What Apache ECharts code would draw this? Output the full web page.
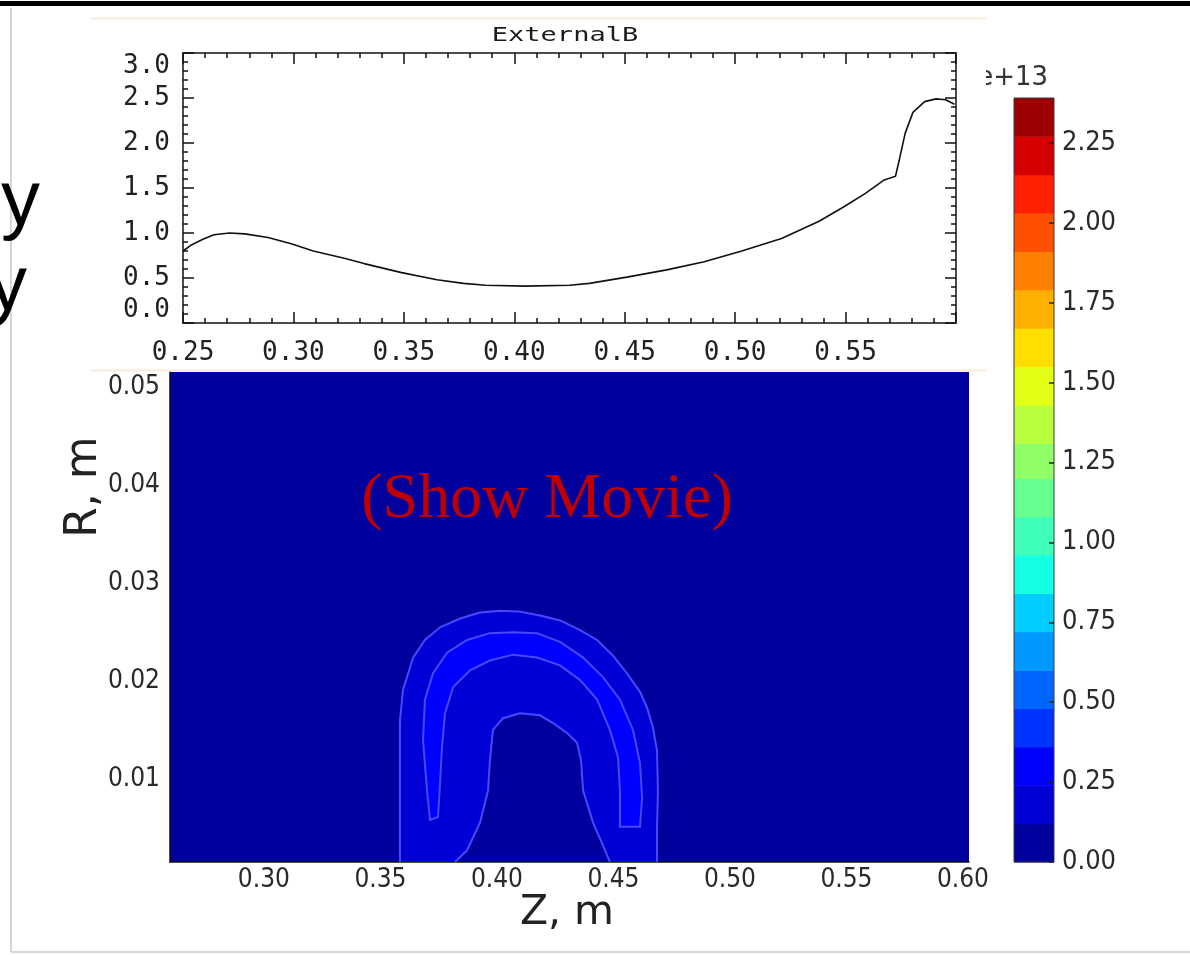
<!DOCTYPE html>
<html>
<head>
<meta charset="utf-8">
<script src="https://cdn.jsdelivr.net/npm/echarts@6/dist/echarts.min.js"></script>
<style>html,body{margin:0;padding:0;background:#fff}#c{width:1190px;height:955px}</style>
</head>
<body>
<div id="c"></div>
<script>
// ---- ExternalB profile (top panel) ----
const bZ   = [0.250,0.254,0.259,0.264,0.271,0.278,0.2885,0.299,0.309,0.323,0.332,0.349,0.365,0.377,0.387,0.405,0.425,0.434,0.451,0.469,0.486,0.503,0.521,0.538,0.5485,0.559,0.5675,0.5726,0.5744,0.577,0.5805,0.5858,0.591,0.5953,0.5993];
const bVal = [0.80,0.87,0.93,0.98,1.00,0.99,0.95,0.88,0.80,0.72,0.66,0.56,0.48,0.44,0.42,0.41,0.42,0.44,0.51,0.59,0.68,0.80,0.94,1.13,1.28,1.44,1.59,1.63,1.82,2.11,2.34,2.46,2.49,2.48,2.43];

// ---- contour plot (bottom panel) ----
const zTicks = [0.30,0.35,0.40,0.45,0.50,0.55,0.60];
const rTicks = [0.01,0.02,0.03,0.04,0.05];
const cbTicks = [0,0.25,0.50,0.75,1.00,1.25,1.50,1.75,2.00,2.25];
const levels = [0,0.12,0.24,0.36,0.48,0.60,0.72,0.84,0.96,1.08,1.20,1.31,1.43,1.55,1.67,1.79,1.91,2.03,2.15,2.27,2.39];
const levelColors = ['#00009d','#0000d6','#0000ff','#0033ff','#0066ff','#0099ff','#00ccff','#15ffe2','#3effb9','#67ff90','#90ff67','#b9ff3e','#e2ff15','#ffde00','#ffaf00','#ff8000','#ff5000','#ff2100','#d60000','#9d0000'];

// contour regions as [Z, R] boundary points
const outerRegion = [[0.3584,0.0015],[0.3584,0.0088],[0.3584,0.0160],[0.3597,0.0191],[0.3640,0.0224],[0.3691,0.0242],[0.3756,0.0255],[0.3842,0.0264],[0.3927,0.0270],[0.4013,0.0272],[0.4099,0.0271],[0.4185,0.0267],[0.4271,0.0262],[0.4357,0.0252],[0.4430,0.0242],[0.4498,0.0226],[0.4558,0.0208],[0.4614,0.0189],[0.4644,0.0173],[0.4670,0.0152],[0.4687,0.0129],[0.4691,0.0088],[0.4687,0.0048],[0.4687,0.0015]];
const ridgeRegion = [[0.3713,0.0058],[0.3700,0.0088],[0.3683,0.0140],[0.3691,0.0181],[0.3726,0.0208],[0.3786,0.0229],[0.3872,0.0242],[0.3970,0.0249],[0.4069,0.0250],[0.4172,0.0249],[0.4271,0.0240],[0.4370,0.0224],[0.4455,0.0204],[0.4528,0.0181],[0.4584,0.0150],[0.4614,0.0116],[0.4623,0.0081],[0.4614,0.0051],[0.4528,0.0051],[0.4528,0.0088],[0.4520,0.0122],[0.4485,0.0150],[0.4430,0.0181],[0.4357,0.0201],[0.4271,0.0216],[0.4172,0.0224],[0.4069,0.0227],[0.3970,0.0221],[0.3885,0.0211],[0.3812,0.0194],[0.3777,0.0167],[0.3764,0.0132],[0.3756,0.0096],[0.3747,0.0061]];
const holeRegion = [[0.3820,0.0015],[0.3872,0.0027],[0.3927,0.0055],[0.3962,0.0088],[0.3970,0.0119],[0.3983,0.0150],[0.4026,0.0162],[0.4099,0.0167],[0.4185,0.0165],[0.4241,0.0157],[0.4301,0.0147],[0.4344,0.0137],[0.4361,0.0119],[0.4370,0.0088],[0.4413,0.0055],[0.4455,0.0032],[0.4485,0.0015]];

const regions = [
  {pts: outerRegion, level: 1, closed: false},
  {pts: ridgeRegion, level: 2, closed: true},
  {pts: holeRegion, level: 0, closed: false}
];

const chart = echarts.init(document.getElementById('c'));
const MONO = '"DejaVu Sans Mono"';
const COND = '"DejaVu Sans Condensed", "DejaVu Sans"';
const boxLine = {show: true, onZero: false, lineStyle: {color: '#111', width: 1.5}};
const inTick = {show: true, inside: true, length: 11, lineStyle: {color: '#111', width: 1.5}};
const inMinor = {show: true, splitNumber: 5, length: 5, lineStyle: {color: '#111', width: 1.5}};

chart.setOption({
  animation: false,
  backgroundColor: '#fff',
  grid: [
    {left: 183, top: 53, width: 773, height: 270, show: false},
    {left: 170, top: 372, width: 799, height: 490, show: true, backgroundColor: levelColors[0], borderWidth: 0},
    {left: 1014, top: 98, width: 40, height: 764, show: true, backgroundColor: 'transparent', borderColor: '#3a3a3a', borderWidth: 1, z: 10}
  ],
  xAxis: [
    {gridIndex: 0, type: 'value', min: 0.25, max: 0.60, interval: 0.05, position: 'bottom', z: 5,
     axisLine: boxLine, axisTick: inTick, minorTick: inMinor, splitLine: {show: false},
     axisLabel: {margin: 17, fontFamily: MONO, fontSize: 26, color: '#222', showMaxLabel: false, formatter: v => v.toFixed(2)}},
    {gridIndex: 0, type: 'value', min: 0.25, max: 0.60, interval: 0.05, position: 'top', z: 5,
     axisLine: boxLine, axisTick: inTick, minorTick: inMinor, splitLine: {show: false}, axisLabel: {show: false}},
    {gridIndex: 1, type: 'value', min: 0.2597, max: 0.6026, position: 'bottom',
     axisLine: {show: true, onZero: false, lineStyle: {color: '#111', width: 1.5}}, axisTick: {show: false}, splitLine: {show: false},
     axisLabel: {customValues: zTicks, margin: 5, fontFamily: COND, fontSize: 26, color: '#2a2a2a', formatter: v => v.toFixed(2)}},
    {gridIndex: 2, type: 'value', min: 0, max: 1, show: false}
  ],
  yAxis: [
    {gridIndex: 0, type: 'value', min: 0, max: 3, interval: 0.5, position: 'left', z: 5,
     axisLine: boxLine, axisTick: inTick, minorTick: inMinor, splitLine: {show: false},
     axisLabel: {margin: 13, fontFamily: MONO, fontSize: 26, color: '#222', formatter: v => v.toFixed(1),
                 verticalAlignMinLabel: 'bottom', verticalAlignMaxLabel: 'top'}},
    {gridIndex: 0, type: 'value', min: 0, max: 3, interval: 0.5, position: 'right', z: 5,
     axisLine: boxLine, axisTick: inTick, minorTick: inMinor, splitLine: {show: false}, axisLabel: {show: false}},
    {gridIndex: 1, type: 'value', min: 0.0015, max: 0.0516, position: 'left',
     axisLine: {show: true, onZero: false, lineStyle: {color: '#111', width: 1.5}}, axisTick: {show: false}, splitLine: {show: false},
     axisLabel: {customValues: rTicks, margin: 10, fontFamily: COND, fontSize: 26, color: '#2a2a2a', formatter: v => v.toFixed(2)}},
    {gridIndex: 2, type: 'value', min: 0, max: 2.39, position: 'right', z: 11,
     axisLine: {show: false, onZero: false}, splitLine: {show: false},
     axisTick: {show: true, inside: true, length: 5, customValues: cbTicks, lineStyle: {color: '#222', width: 1.5}},
     axisLabel: {customValues: cbTicks, margin: 8, fontFamily: COND, fontSize: 27, color: '#2a2a2a', formatter: v => v.toFixed(2)}}
  ],
  series: [
    {type: 'line', xAxisIndex: 0, yAxisIndex: 0, z: 4, symbol: 'none', smooth: false,
     lineStyle: {color: '#111', width: 1.6}, data: bZ.map((z, i) => [z, bVal[i]])},
    {type: 'custom', xAxisIndex: 2, yAxisIndex: 2, z: 2,
     data: regions.map((r, i) => [r.pts[0][0], r.pts[0][1], i]),
     encode: {x: 0, y: 1},
     renderItem: function (params, api) {
       const r = regions[api.value(2)];
       const pts = r.pts.map(p => api.coord(p));
       const fill = levelColors[r.level];
       const children = [];
       if (r.closed) {
         children.push({type: 'polygon', shape: {points: pts}, style: {fill: fill, stroke: '#4848ff', lineWidth: 2}});
       } else {
         children.push({type: 'polygon', shape: {points: pts}, style: {fill: fill}});
         children.push({type: 'polyline', shape: {points: pts}, style: {fill: null, stroke: '#4848ff', lineWidth: 2}});
       }
       return {type: 'group', children: children};
     }},
    {type: 'custom', xAxisIndex: 3, yAxisIndex: 3, z: 2,
     data: levelColors.map((c, i) => [0.5, levels[i], levels[i + 1], i]),
     encode: {x: 0, y: [1, 2]},
     renderItem: function (params, api) {
       const p0 = api.coord([0, api.value(2)]);
       const p1 = api.coord([1, api.value(1)]);
       return {type: 'rect', shape: {x: p0[0], y: p0[1], width: p1[0] - p0[0], height: p1[1] - p0[1] + 0.5},
               style: {fill: levelColors[api.value(3)]}};
     }}
  ],
  graphic: [
    {type: 'rect', z: 0, shape: {x: 0, y: 1, width: 1190, height: 5}, style: {fill: '#000'}},
    {type: 'line', z: 0, shape: {x1: 11, y1: 8, x2: 11, y2: 952}, style: {stroke: '#d6d6d6', lineWidth: 2}},
    {type: 'line', z: 0, shape: {x1: 11, y1: 952, x2: 1190, y2: 952}, style: {stroke: '#d6d6d6', lineWidth: 2}},
    {type: 'text', z: 1, x: 1, y: 203, style: {text: 'y', font: '78px "Liberation Sans"', fill: '#000', textAlign: 'left', textVerticalAlign: 'middle'}},
    {type: 'text', z: 1, x: -12, y: 288, style: {text: 'y', font: '78px "Liberation Sans"', fill: '#000', textAlign: 'left', textVerticalAlign: 'middle'}},
    {type: 'text', z: 0, x: 1048, y: 78, style: {text: '1e+13', font: '26px "DejaVu Sans"', fill: '#333', textAlign: 'right', textVerticalAlign: 'middle'}},
    {type: 'rect', z: 1, shape: {x: 91, y: 18, width: 895, height: 352}, style: {fill: '#fff'}},
    {type: 'line', z: 1, shape: {x1: 91, y1: 18.5, x2: 986, y2: 18.5}, style: {stroke: '#fbe9da', lineWidth: 2}},
    {type: 'line', z: 1, shape: {x1: 91, y1: 370.5, x2: 986, y2: 370.5}, style: {stroke: '#fbe9da', lineWidth: 2}},
    {type: 'text', z: 6, x: 565, y: 36, scaleX: 1.35, style: {text: 'ExternalB', font: '20px "DejaVu Sans Mono"', fill: '#1a1a1a', textAlign: 'center', textVerticalAlign: 'middle'}},
    {type: 'text', z: 20, x: 547, y: 500, style: {text: '(Show Movie)', font: '64px "Liberation Serif"', fill: '#c00000', textAlign: 'center', textVerticalAlign: 'middle'}},
    {type: 'text', z: 6, x: 567, y: 913, style: {text: 'Z, m', font: '41px "DejaVu Sans"', fill: '#222', textAlign: 'center', textVerticalAlign: 'middle'}},
    {type: 'text', z: 6, x: 85, y: 487, rotation: Math.PI / 2, style: {text: 'R, m', font: '44px "DejaVu Sans"', fill: '#222', textAlign: 'center', textVerticalAlign: 'middle'}}
  ]
});
</script>
</body>
</html>
